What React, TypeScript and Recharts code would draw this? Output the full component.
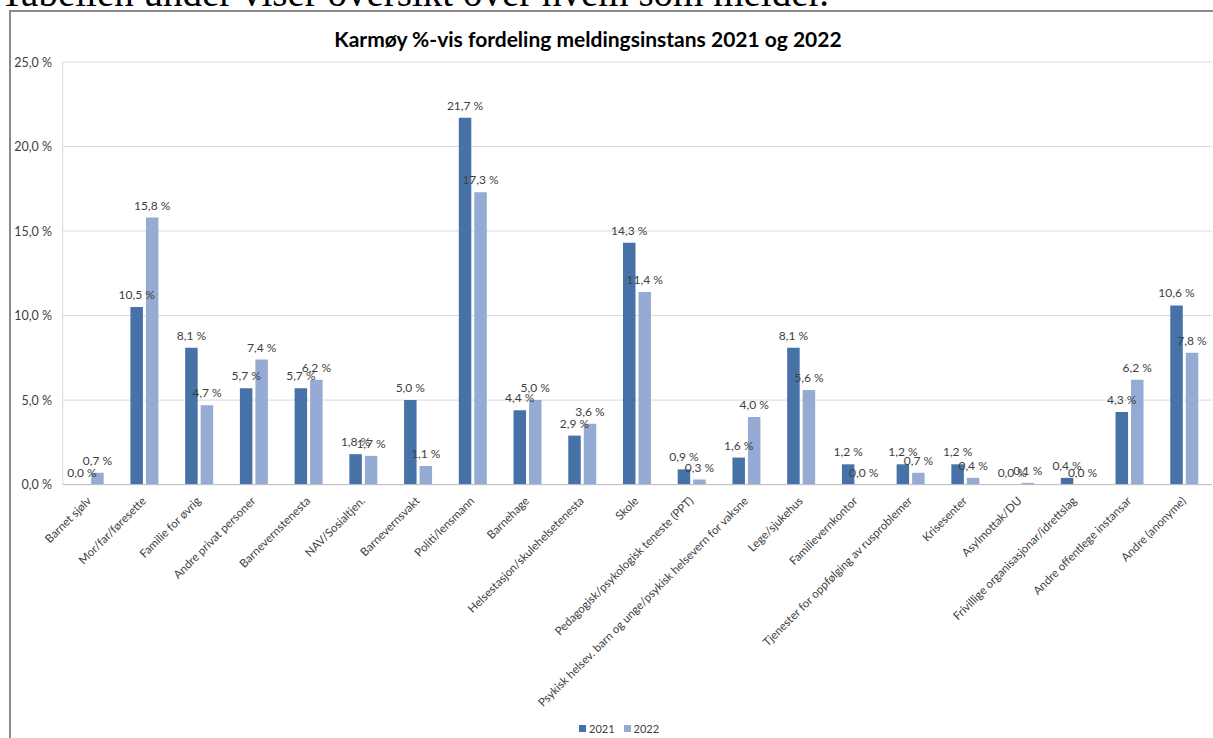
import React from 'react';
import { BarChart, Bar, XAxis, YAxis, CartesianGrid, Legend, LabelList } from 'recharts';

const categories = [
  'Barnet sjølv',
  'Mor/far/føresette',
  'Familie for øvrig',
  'Andre privat personer',
  'Barnevernstenesta',
  'NAV/Sosialtjen.',
  'Barnevernsvakt',
  'Politi/lensmann',
  'Barnehage',
  'Helsestasjon/skulehelsetenesta',
  'Skole',
  'Pedagogisk/psykologisk teneste (PPT)',
  'Psykisk helsev. barn og unge/psykisk helsevern for vaksne',
  'Lege/sjukehus',
  'Familievernkontor',
  'Tjenester for oppfølging av rusproblemer',
  'Krisesenter',
  'Asylmottak/DU',
  'Frivillige organisasjonar/idrettslag',
  'Andre offentlege instansar',
  'Andre (anonyme)',
];

const values2021 = [0.0, 10.5, 8.1, 5.7, 5.7, 1.8, 5.0, 21.7, 4.4, 2.9, 14.3, 0.9, 1.6, 8.1, 1.2, 1.2, 1.2, 0.0, 0.4, 4.3, 10.6];
const values2022 = [0.7, 15.8, 4.7, 7.4, 6.2, 1.7, 1.1, 17.3, 5.0, 3.6, 11.4, 0.3, 4.0, 5.6, 0.0, 0.7, 0.4, 0.1, 0.0, 6.2, 7.8];

const yTicks = [0, 5, 10, 15, 20, 25];
const seriesNames = ['2021', '2022'];

const COLOR_2021 = '#4672a8';
const COLOR_2022 = '#95abd3';
const FONT = 'Lato, "Open Sans", sans-serif';
const TEXT = '#404040';

const data = categories.map((name, i) => ({
  name,
  y2021: values2021[i],
  y2022: values2022[i],
}));

const fmt = (v: number) => `${v.toFixed(1).replace('.', ',')} %`;

// plain text label so it does not wrap to the bar width
const renderValueLabel = (props: any) => {
  const { x, y, width, value } = props;
  if (value == null) return null;
  return (
    <text x={Number(x) + Number(width) / 2} y={Number(y) - 8} textAnchor="middle" fontSize={12} fontFamily={FONT} fill={TEXT}>
      {fmt(Number(value))}
    </text>
  );
};

// zero bars get a hairline height so recharts still hands them a label
const zeroPoint = (value: any) => (Number(value) === 0 ? 0.01 : 0);

const YTick = (props: any) => {
  const { y, payload } = props;
  return (
    <text x={52} y={y} dy={4.5} textAnchor="end" fontSize={12.5} fontFamily={FONT} fill={TEXT}>
      {fmt(payload.value)}
    </text>
  );
};

const XTick = (props: any) => {
  const { x, y, payload } = props;
  return (
    <g transform={`translate(${x + 2},${y + 9})`}>
      <text textAnchor="end" transform="rotate(-45)" fontSize={11.5} fontFamily={FONT} fill={TEXT}>
        {payload.value}
      </text>
    </g>
  );
};

const LegendContent = () => (
  <div style={{ paddingLeft: 579, paddingTop: 10, fontFamily: FONT, fontSize: 11, color: TEXT, display: 'flex', alignItems: 'center' }}>
    <span style={{ width: 7, height: 7, background: COLOR_2021, display: 'inline-block', marginRight: 3 }} />
    <span style={{ marginRight: 9 }}>{seriesNames[0]}</span>
    <span style={{ width: 7, height: 7, background: COLOR_2022, display: 'inline-block', marginRight: 3 }} />
    <span>{seriesNames[1]}</span>
  </div>
);

const App: React.FC = () => {
  return (
    <div style={{ position: 'absolute', left: 0, top: 0, width: 1213, height: 738, overflow: 'hidden', background: '#fff' }}>
      <div
        style={{
          position: 'absolute',
          left: 0,
          top: -27,
          fontFamily: '"Liberation Serif", serif',
          fontSize: 39,
          lineHeight: '39px',
          whiteSpace: 'nowrap',
          color: '#000',
        }}
      >
        Tabellen under viser oversikt over hvem som melder.
      </div>
      <div
        style={{
          position: 'absolute',
          left: 9,
          top: 10,
          width: 1260,
          height: 800,
          borderLeft: '2px solid #8a8a8a',
          borderTop: '2px solid #8a8a8a',
        }}
      />
      <div
        style={{
          position: 'absolute',
          left: 0,
          top: 26,
          width: 1176,
          textAlign: 'center',
          fontFamily: FONT,
          fontWeight: 700,
          fontSize: 21,
          color: '#000',
        }}
      >
        Karmøy %-vis fordeling meldingsinstans 2021 og 2022
      </div>
      <div style={{ position: 'absolute', left: 0, top: 0 }}>
        <BarChart
          width={1213}
          height={738}
          data={data}
          margin={{ top: 62, right: 1, bottom: 0, left: 0 }}
          barSize={12.5}
          barGap={3}
        >
          <CartesianGrid vertical={false} stroke="#d9d9d9" />
          <XAxis
            dataKey="name"
            interval={0}
            height={227.4}
            tick={<XTick />}
            tickLine={false}
            axisLine={{ stroke: '#bfbfbf' }}
          />
          <YAxis
            width={62.7}
            domain={[0, 25]}
            ticks={yTicks}
            tick={<YTick />}
            tickLine={false}
            axisLine={{ stroke: '#d9d9d9' }}
          />
          <Legend verticalAlign="bottom" height={26} content={<LegendContent />} />
          <Bar dataKey="y2021" name={seriesNames[0]} fill={COLOR_2021} minPointSize={zeroPoint} isAnimationActive={false}>
            <LabelList dataKey="y2021" content={renderValueLabel} />
          </Bar>
          <Bar dataKey="y2022" name={seriesNames[1]} fill={COLOR_2022} minPointSize={zeroPoint} isAnimationActive={false}>
            <LabelList dataKey="y2022" content={renderValueLabel} />
          </Bar>
        </BarChart>
      </div>
    </div>
  );
};

export default App;
